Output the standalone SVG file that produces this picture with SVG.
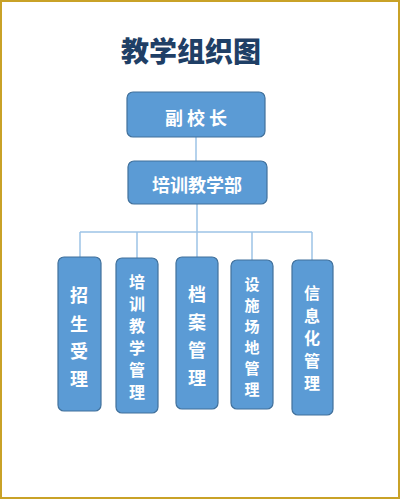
<svg xmlns="http://www.w3.org/2000/svg" width="400" height="500" viewBox="0 0 400 500">
<style>
.box{fill:#5B9BD5;stroke:#41719C;stroke-width:1.2}
.t{fill:#fff;font-family:"Noto Sans CJK SC","Noto Sans CJK JP",sans-serif;font-weight:bold;text-anchor:middle;dominant-baseline:central}
.c{stroke:#9DC3E6;stroke-width:1.5;fill:none}
</style>
<rect x="1" y="1" width="398" height="497" fill="#fff" stroke="#C9A227" stroke-width="2"/>
<text x="191" y="50" font-family="'Noto Sans CJK SC',sans-serif" font-weight="900" font-size="28" fill="#1F3F66" text-anchor="middle" dominant-baseline="central">教学组织图</text>
<g id="connectors">
<path class="c" d="M196 137V161M197 204V232M80 232H312M80 232V257M137 232V258M197 232V257M252 232V260M312 232V260"/>
</g>
<g id="n1"><rect class="box" x="127" y="92" width="138" height="45" rx="6"/><text class="t" x="196" y="117" font-size="18">副 校 长</text></g>
<g id="n2"><rect class="box" x="128" y="161" width="139" height="43" rx="6"/><text class="t" x="197" y="184" font-size="18">培训教学部</text></g>
<g id="n3"><rect class="box" x="58" y="257" width="43" height="154" rx="6"/>
<text class="t" font-size="18" x="79"><tspan x="79" y="294">招</tspan><tspan x="79" y="323">生</tspan><tspan x="79" y="350">受</tspan><tspan x="79" y="378">理</tspan></text></g>
<g id="n4"><rect class="box" x="116" y="258" width="42" height="155" rx="6"/>
<text class="t" font-size="16" x="137"><tspan x="137" y="281">培</tspan><tspan x="137" y="303">训</tspan><tspan x="137" y="325">教</tspan><tspan x="137" y="347">学</tspan><tspan x="137" y="369">管</tspan><tspan x="137" y="391">理</tspan></text></g>
<g id="n5"><rect class="box" x="176" y="257" width="42" height="152" rx="6"/>
<text class="t" font-size="18" x="197"><tspan x="197" y="293">档</tspan><tspan x="197" y="321">案</tspan><tspan x="197" y="349">管</tspan><tspan x="197" y="377">理</tspan></text></g>
<g id="n6"><rect class="box" x="231" y="260" width="42" height="149" rx="6"/>
<text class="t" font-size="15" x="252"><tspan x="252" y="283">设</tspan><tspan x="252" y="304">施</tspan><tspan x="252" y="325">场</tspan><tspan x="252" y="346">地</tspan><tspan x="252" y="367">管</tspan><tspan x="252" y="388">理</tspan></text></g>
<g id="n7"><rect class="box" x="292" y="260" width="41" height="155" rx="6"/>
<text class="t" font-size="16" x="312"><tspan x="312" y="292">信</tspan><tspan x="312" y="314.5">息</tspan><tspan x="312" y="337">化</tspan><tspan x="312" y="359.5">管</tspan><tspan x="312" y="382">理</tspan></text></g>
</svg>
